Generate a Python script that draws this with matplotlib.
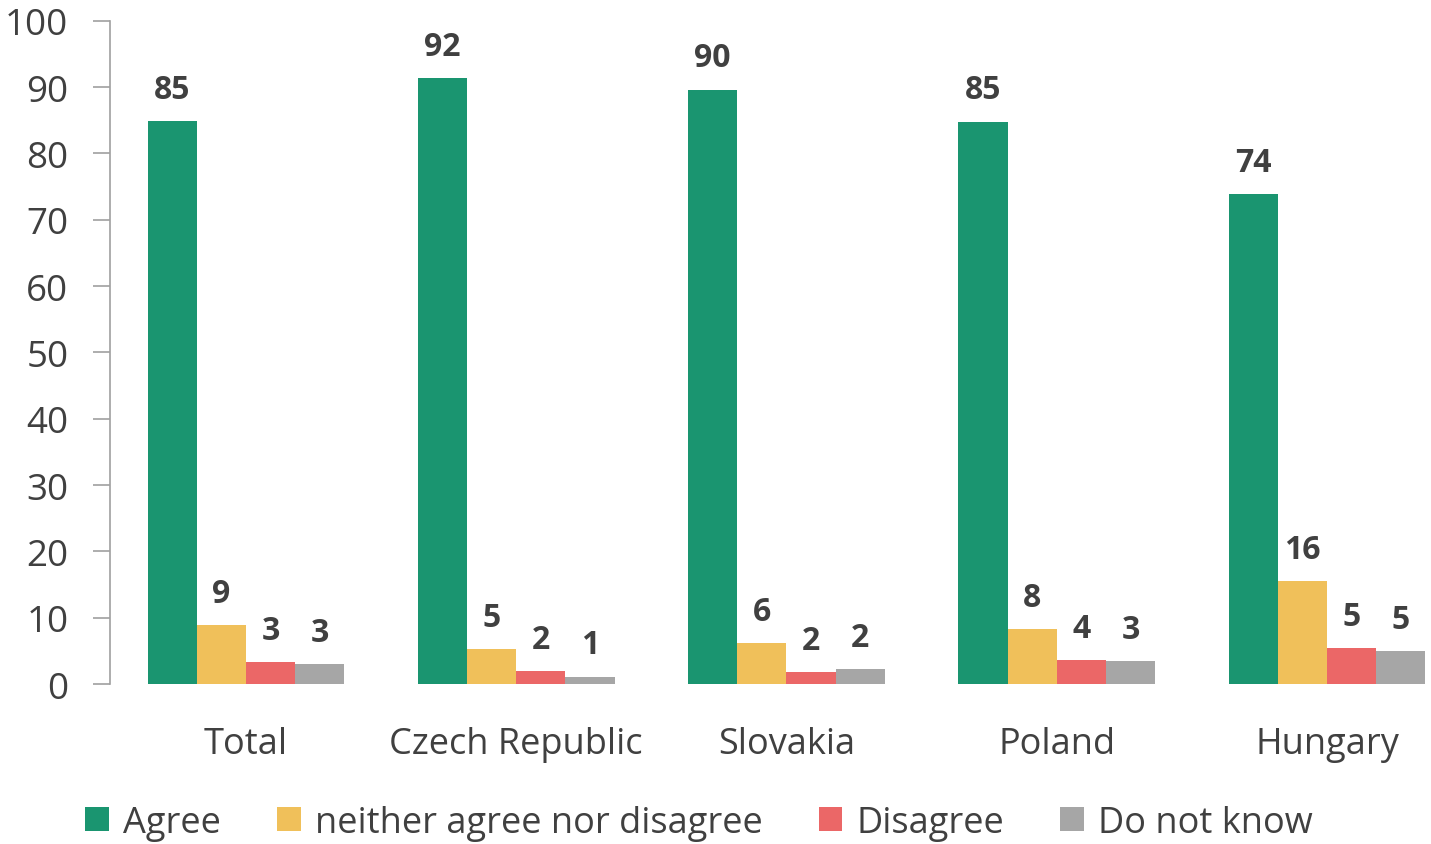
import numpy as np
import matplotlib.pyplot as plt

countries = ["Total", "Czech Republic", "Slovakia", "Poland", "Hungary"]
series = ["Agree", "neither agree nor disagree", "Disagree", "Do not know"]
agree = [84.9, 91.4, 89.6, 84.8, 73.9]
neither = [8.9, 5.3, 6.2, 8.3, 15.5]
disagree = [3.3, 2.0, 1.8, 3.6, 5.4]
dont_know = [3.0, 1.1, 2.3, 3.5, 5.0]
labels_agree = ["85", "92", "90", "85", "74"]
labels_neither = ["9", "5", "6", "8", "16"]
labels_disagree = ["3", "2", "2", "4", "5"]
labels_dk = ["3", "1", "2", "3", "5"]

colors = ["#1a9570", "#f0c05a", "#eb6767", "#a6a6a6"]
txt = "#404040"

plt.rcParams['font.family'] = ['Open Sans', 'DejaVu Sans']

fig = plt.figure(figsize=(14.31, 8.45), dpi=100)
ax = fig.add_axes([0.0769, 0.1893, 0.9231, 0.785])

x = np.arange(len(countries))
w = 0.182
vals = [agree, neither, disagree, dont_know]
labs = [labels_agree, labels_neither, labels_disagree, labels_dk]
for i in range(4):
    pos = x + (i - 1.5) * w
    ax.bar(pos, vals[i], width=w, color=colors[i], label=series[i])
    for p, v, l in zip(pos, vals[i], labs[i]):
        ax.text(p, v + 2.3, l, ha="center", va="bottom", fontsize=23,
                fontweight="bold", color=txt)

ax.set_xlim(-0.503, 4.385)
ax.set_ylim(0, 100)
ax.set_yticks(range(0, 101, 10))
ax.set_xticks(x)
ax.set_xticklabels(countries)
ax.tick_params(axis="y", labelsize=26.5, colors=txt, length=12, width=1.2,
               color="#a0a0a0", pad=18)
ax.tick_params(axis="x", labelsize=26, colors=txt, length=0, pad=30)
for s in ["top", "right", "bottom"]:
    ax.spines[s].set_visible(False)
ax.spines["left"].set_color("#a0a0a0")
ax.spines["left"].set_linewidth(1.2)

fig.legend(loc="lower left", bbox_to_anchor=(0.037, -0.035), ncol=4,
           frameon=False, fontsize=26, labelcolor=txt, handlelength=0.65,
           handleheight=0.65, handletextpad=0.4, columnspacing=1.55)

fig.savefig("out.png", dpi=100)
